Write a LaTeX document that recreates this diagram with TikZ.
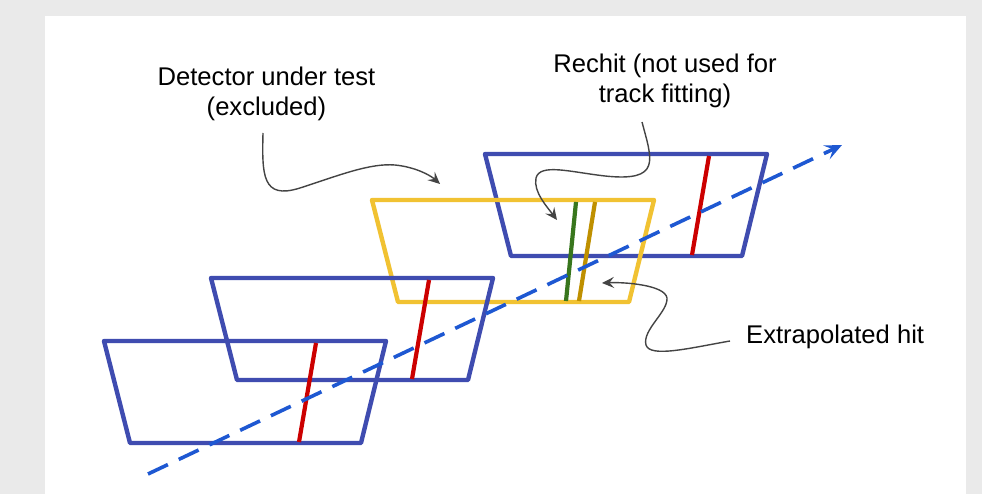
\documentclass[tikz,border=0pt]{standalone}
\usepackage{fontspec}
\setmainfont{Liberation Sans}
\usetikzlibrary{arrows.meta}
\definecolor{bggray}{RGB}{234,234,234}
\definecolor{detblue}{RGB}{63,76,176}
\definecolor{hitred}{RGB}{204,0,0}
\definecolor{dutyellow}{RGB}{241,194,50}
\definecolor{rechgreen}{RGB}{56,118,29}
\definecolor{extgold}{RGB}{191,144,0}
\definecolor{trackblue}{RGB}{30,88,210}
\definecolor{arrowgray}{RGB}{68,68,68}
\newcommand\trapezpath[2]{(#1,#2) -- ++(282,0) -- ++(-25,102) -- ++(-231,0) -- cycle}
\begin{document}
\begin{tikzpicture}[x=1pt,y=-1pt,
  detframe/.style={draw=detblue, line width=4.4pt, line join=round},
  dutframe/.style={draw=dutyellow, line width=4.4pt, line join=round},
  hitline/.style={draw=hitred, line width=4.2pt},
  trackline/.style={draw=trackblue, line width=3.6pt, dash pattern=on 22pt off 12pt,
     -{Stealth[length=17pt,width=15pt,inset=7pt]}},
  conn/.style={draw=arrowgray, line width=1.4pt, -{Stealth[length=12pt,width=11pt,inset=4.5pt]}},
  lbl/.style={font=\fontsize{25.6}{30}\selectfont, inner sep=0pt, align=center, text=black}]
\fill[bggray] (0,0) rectangle (982,494);
\fill[white] (45,16) rectangle (966,494);
\useasboundingbox (0,0) rectangle (982,494);

% detector 4 (top right)
\draw[detframe] \trapezpath{485}{154};
\draw[hitline] (709,156) -- (692,255);
% detector under test
\draw[dutframe] \trapezpath{372}{200};
\draw[draw=rechgreen, line width=4.2pt] (576,202) -- (566,301);
\draw[draw=extgold, line width=4.2pt] (595,202) -- (579,301);
% detector 2
\draw[detframe] \trapezpath{211}{278};
\draw[hitline] (429,280) -- (412,379);
% detector 1
\draw[detframe] \trapezpath{104}{341};
\draw[hitline] (316,343) -- (299,442);

% track
\coordinate (trackstart) at (148,474);
\coordinate (trackend) at (842,145);
\draw[trackline] (trackstart) -- (trackend);

% labels (anchor = baseline of the last line)
\node[lbl, anchor=base] (det) at (266.5,116) {Detector under test\\(excluded)};
\node[lbl, anchor=base] (rech) at (665,103) {Rechit (not used for\\track fitting)};
\node[lbl, anchor=base west] (extr) at (746,343) {Extrapolated hit};

% annotation arrows
\coordinate (detA) at (263,133);
\coordinate (detB) at (440,184);
\draw[conn] (detA) .. controls (262,175) and (262,200) .. (300,188)
  .. controls (340,175) and (370,163) .. (395,165)
  .. controls (415,167) and (430,175) .. (detB);

\coordinate (rechA) at (642,122);
\coordinate (rechB) at (557,220);
\draw[conn] (rechA) .. controls (652,160) and (662,182) .. (605,176)
  .. controls (570,172) and (540,163) .. (536,178)
  .. controls (533,192) and (548,208) .. (rechB);

\coordinate (extrA) at (730,341);
\coordinate (extrB) at (602,283);
\draw[conn] (extrA) .. controls (690,348) and (650,358) .. (646,345)
  .. controls (642,330) and (668,312) .. (667,298)
  .. controls (665,285) and (625,282) .. (extrB);
\end{tikzpicture}
\end{document}
